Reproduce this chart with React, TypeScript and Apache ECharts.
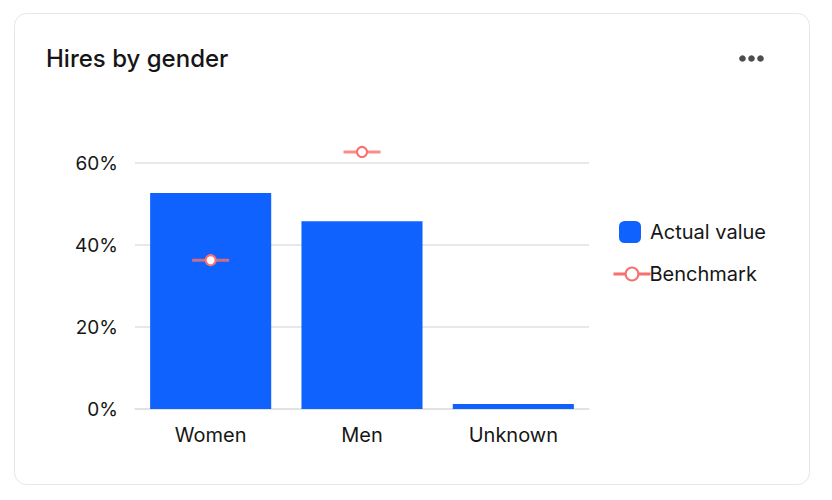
import React, { useEffect, useRef } from "react";
import * as echarts from "echarts";

const categories = ["Women", "Men", "Unknown"];
const actualValues = [52.7, 45.8, 1.2];
const benchmarkValues: (number | string)[] = [36.3, 62.7, "-"];
const yTicks = [0, 20, 40, 60];

const BLUE = "#0F62FE";
const RED = "#F7706E";
const TEXT = "#161616";
const FONT = "Inter";

export default function App() {
  const ref = useRef<HTMLDivElement>(null);
  useEffect(() => {
    if (!ref.current) return;
    const chart = echarts.init(ref.current, undefined, { renderer: "svg" });
    chart.setOption({
      animation: false,
      textStyle: { fontFamily: FONT },
      graphic: [
        {
          type: "rect",
          z: -10,
          shape: { x: 14.5, y: 13.5, width: 795, height: 471, r: 12 },
          style: { fill: "#fff", stroke: "#e6e6e6", lineWidth: 1 },
        },
        {
          type: "text",
          left: 46,
          top: 46,
          style: { text: "Hires by gender", fontSize: 24, fontWeight: 500, fill: TEXT, fontFamily: FONT },
        },
        { type: "circle", shape: { cx: 742.5, cy: 58.5, r: 3.3 }, style: { fill: "#4d4d4d" } },
        { type: "circle", shape: { cx: 751.5, cy: 58.5, r: 3.3 }, style: { fill: "#4d4d4d" } },
        { type: "circle", shape: { cx: 760.5, cy: 58.5, r: 3.3 }, style: { fill: "#4d4d4d" } },
      ],
      legend: [
        {
          data: ["Actual value"],
          orient: "vertical",
          left: 619,
          top: 221,
          padding: 0,
          itemWidth: 22,
          itemHeight: 22,
          icon: "roundRect",
          textStyle: { fontSize: 20, color: TEXT, fontFamily: FONT, padding: [0, 0, 0, 4] },
          selectedMode: false,
        },
        {
          data: [{ name: "Benchmark", lineStyle: { opacity: 1, width: 3, color: RED } }],
          orient: "vertical",
          left: 612,
          top: 264,
          padding: 0,
          itemWidth: 37,
          itemHeight: 16,
          textStyle: { fontSize: 20, color: TEXT, fontFamily: FONT, padding: [0, 0, 0, -6] },
          selectedMode: false,
        },
      ],
      grid: { left: 135, right: 243, top: 163, bottom: 91, containLabel: false },
      xAxis: {
        type: "category",
        data: categories,
        axisLine: { show: true, lineStyle: { color: "#e0e0e0", width: 1.5 } },
        axisTick: { show: false },
        axisLabel: { fontSize: 20, color: TEXT, margin: 16, fontFamily: FONT },
      },
      yAxis: {
        type: "value",
        min: yTicks[0],
        max: yTicks[yTicks.length - 1],
        interval: 20,
        axisLine: { show: false },
        axisTick: { show: false },
        splitLine: { lineStyle: { color: "#e0e0e0", width: 1.5 } },
        axisLabel: { fontSize: 19, color: TEXT, margin: 17, formatter: "{value}%", fontFamily: FONT },
      },
      series: [
        {
          name: "Actual value",
          type: "bar",
          data: actualValues,
          barWidth: "80%",
          itemStyle: { color: BLUE },
          z: 2,
        },
        {
          name: "Benchmark dash",
          type: "scatter",
          data: benchmarkValues,
          symbol: "rect",
          symbolSize: [37, 3],
          itemStyle: { color: RED },
          clip: false,
          z: 3,
          silent: true,
        },
        {
          name: "Benchmark",
          type: "line",
          data: benchmarkValues,
          symbol: "emptyCircle",
          symbolSize: 10,
          showAllSymbol: true,
          connectNulls: false,
          clip: false,
          lineStyle: { opacity: 0, color: RED },
          itemStyle: { color: RED, borderColor: RED, borderWidth: 3 },
          z: 4,
        },
      ],
    });
    return () => chart.dispose();
  }, []);
  return (
    <div
      ref={ref}
      style={{ position: "fixed", left: 0, top: 0, width: 832, height: 500, background: "#fff" }}
    />
  );
}
